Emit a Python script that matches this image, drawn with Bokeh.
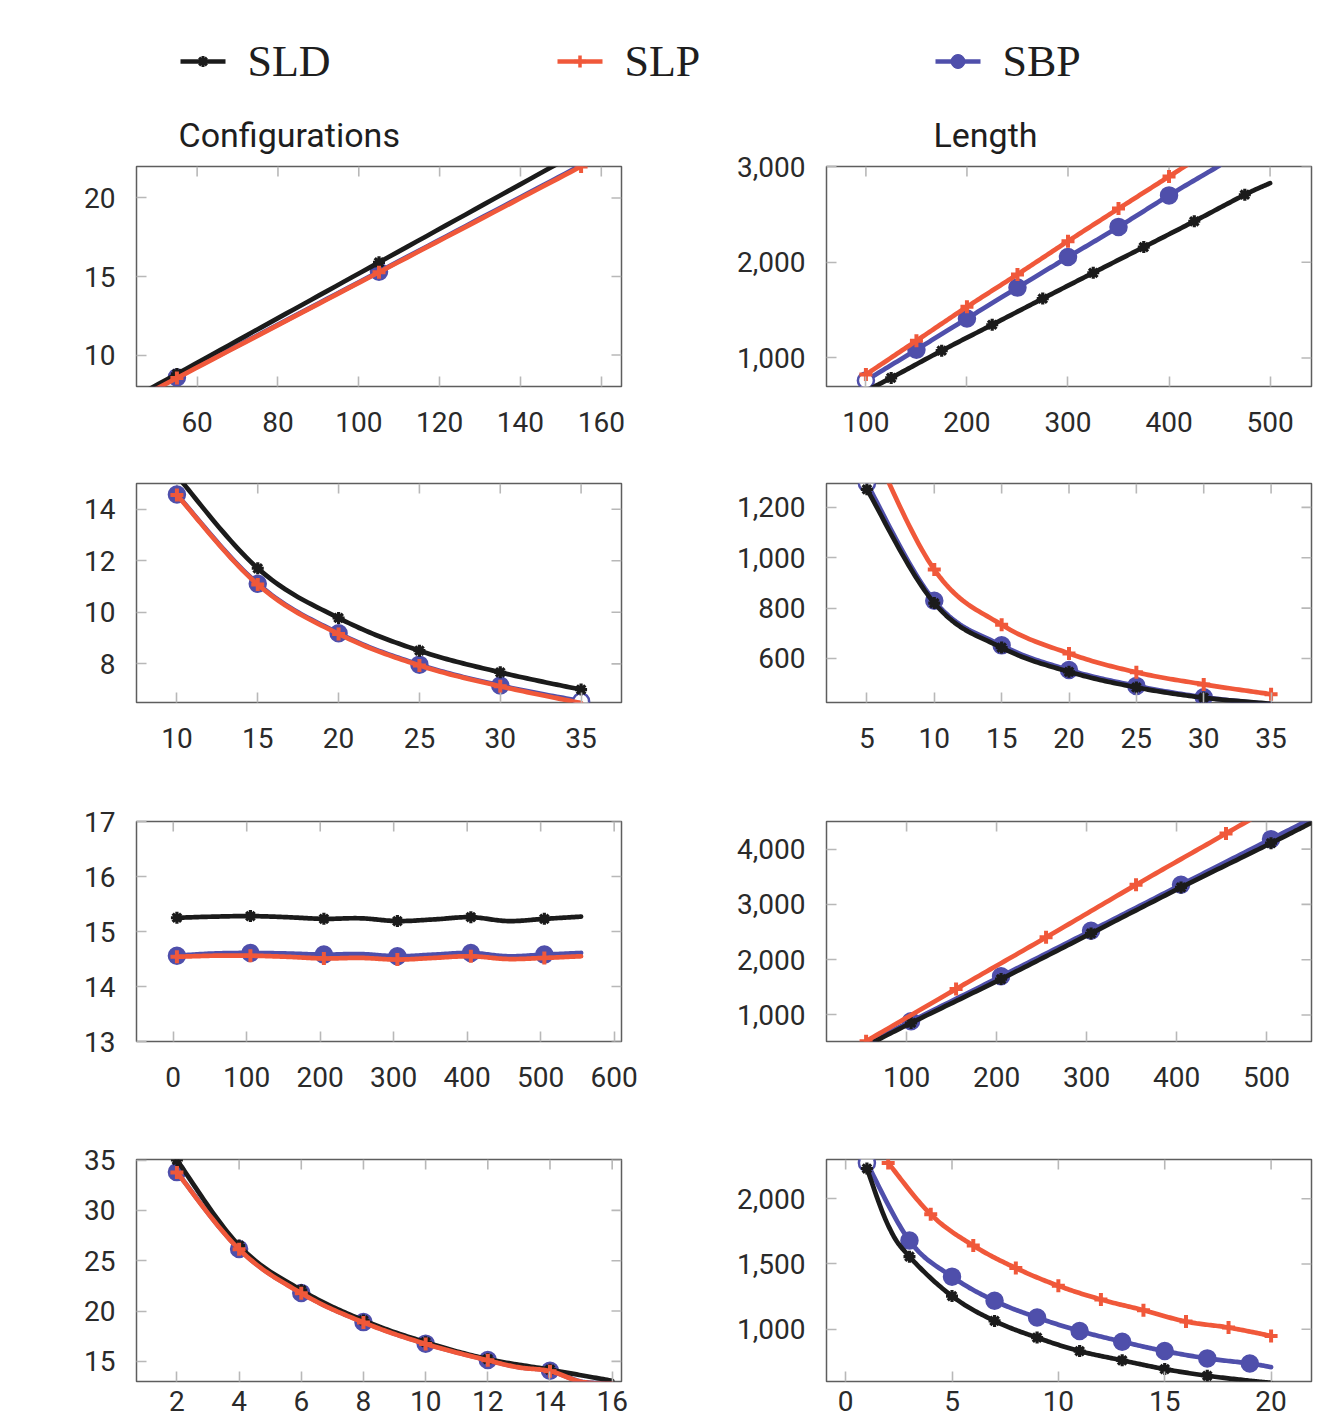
import numpy as np
from bokeh.plotting import figure
from bokeh.layouts import column, row
from bokeh.models import LinearAxis, FixedTicker, NumeralTickFormatter, Range1d, Title
from bokeh.embed import file_html
from bokeh.resources import INLINE
from bokeh.core.properties import value

# ------------------------------------------------------------------ data
legend_labels = ["SLD", "SLP", "SBP"]
column_titles = ["Configurations", "Length"]

# row 1, left (Configurations)
a_sld_x = [5, 55, 105, 155]
a_sld_y = [1.7, 8.8, 15.9, 23.0]
a_slp_x = [5, 55, 105, 155]
a_slp_y = [1.8, 8.54, 15.27, 22.0]
a_sbp_x = [5, 55, 105, 155]
a_sbp_y = [1.85, 8.58, 15.31, 22.08]
a_xticks = [60, 80, 100, 120, 140, 160]
a_yticks = [10, 15, 20]

# row 1, right (Length)
b_sld_x = [100, 125, 175, 225, 275, 325, 375, 425, 475, 500]
b_sld_y = [656, 792, 1076, 1347, 1620, 1890, 2158, 2428, 2705, 2826]
b_slp_x = [100, 150, 200, 250, 300, 350, 400, 450]
b_slp_y = [827, 1180, 1534, 1873, 2220, 2560, 2896, 3235]
b_sbp_x = [100, 150, 200, 250, 300, 350, 400, 450]
b_sbp_y = [764, 1087, 1412, 1735, 2054, 2369, 2698, 3010]
b_xticks = [100, 200, 300, 400, 500]
b_yticks = [1000, 2000, 3000]

# row 2, left
c_x = [10, 15, 20, 25, 30, 35]
c_sld_y = [15.3, 11.71, 9.78, 8.51, 7.67, 7.0]
c_slp_y = [14.55, 11.08, 9.16, 7.94, 7.13, 6.48]
c_sbp_y = [14.57, 11.11, 9.19, 7.97, 7.16, 6.55]
c_xticks = [10, 15, 20, 25, 30, 35]
c_yticks = [8, 10, 12, 14]

# row 2, right
d_x = [5, 10, 15, 20, 25, 30, 35]
d_sld_y = [1272, 820, 643, 547, 485, 444, 420]
d_slp_y = [1490, 953, 734, 620, 545, 497, 458]
d_sbp_y = [1295, 829, 652, 554, 491, 446, 418]
d_xticks = [5, 10, 15, 20, 25, 30, 35]
d_yticks = [600, 800, 1000, 1200]

# row 3, left
e_x = [5, 55, 105, 155, 205, 255, 305, 355, 405, 455, 505, 555]
e_sld_y = [15.25, 15.27, 15.28, 15.26, 15.23, 15.24, 15.19, 15.22, 15.26, 15.19, 15.23, 15.27]
e_slp_y = [14.54, 14.56, 14.56, 14.54, 14.51, 14.52, 14.49, 14.52, 14.55, 14.50, 14.52, 14.55]
e_sbp_y = [14.56, 14.60, 14.61, 14.60, 14.58, 14.59, 14.55, 14.58, 14.61, 14.55, 14.58, 14.61]
e_xticks = [0, 100, 200, 300, 400, 500, 600]
e_yticks = [13, 14, 15, 16, 17]

# row 3, right
f_sld_x = [55, 105, 205, 305, 405, 505, 555]
f_sld_y = [440, 855, 1650, 2476, 3307, 4108, 4520]
f_slp_x = [55, 155, 255, 355, 455, 555]
f_slp_y = [525, 1470, 2404, 3355, 4283, 5220]
f_sbp_x = [55, 105, 205, 305, 405, 505, 555]
f_sbp_y = [470, 886, 1699, 2524, 3355, 4181, 4596]
f_xticks = [100, 200, 300, 400, 500]
f_yticks = [1000, 2000, 3000, 4000]

# row 4, left
g_sld_x = [2, 4, 6, 8, 10, 12, 14, 16]
g_sld_y = [35.0, 26.5, 22.07, 19.07, 16.9, 15.23, 14.17, 13.07]
g_slp_x = [2, 4, 6, 8, 10, 12, 13, 14, 15, 16]
g_slp_y = [33.77, 26.13, 21.77, 18.87, 16.73, 15.1, 14.4, 14.03, 12.98, 12.78]
g_sbp_x = [2, 4, 6, 8, 10, 12, 13, 14, 15, 16]
g_sbp_y = [33.8, 26.16, 21.8, 18.9, 16.76, 15.13, 14.43, 14.06, 13.0, 12.8]
g_xticks = [2, 4, 6, 8, 10, 12, 14, 16]
g_yticks = [15, 20, 25, 30, 35]

# row 4, right
h_sld_x = [1, 2, 3, 5, 7, 9, 11, 13, 15, 17, 19, 20]
h_sld_y = [2231, 1795, 1556, 1254, 1064, 936, 833, 762, 695, 644, 606, 590]
h_slp_x = [2, 4, 6, 8, 10, 12, 14, 16, 18, 20]
h_slp_y = [2274, 1880, 1641, 1469, 1333, 1228, 1146, 1059, 1013, 949]
h_sbp_x = [1, 3, 5, 7, 9, 11, 13, 15, 17, 19, 20]
h_sbp_y = [2274, 1679, 1403, 1218, 1090, 987, 905, 833, 777, 738, 710]
h_xticks = [0, 5, 10, 15, 20]
h_yticks = [1000, 1500, 2000]

# ------------------------------------------------------------------ style
COL = {"SLD": "#1b1b1b", "SLP": "#f0583a", "SBP": "#4f4fab"}
TICK_FONT = "Roboto"
LABEL_COLOR = "#2a2a2a"
TICK_COLOR = "#b8b8b8"

panels = [
    dict(series={"SLD": (a_sld_x, a_sld_y), "SLP": (a_slp_x, a_slp_y), "SBP": (a_sbp_x, a_sbp_y)},
         xticks=a_xticks, yticks=a_yticks, xr=(45, 165), yr=(8, 22),
         marks={"SBP": [0, 1, 2]}, hollow=[]),
    dict(series={"SLD": (b_sld_x, b_sld_y), "SLP": (b_slp_x, b_slp_y), "SBP": (b_sbp_x, b_sbp_y)},
         xticks=b_xticks, yticks=b_yticks, xr=(61, 541), yr=(702, 3000),
         marks={"SLD": list(range(1, 9)), "SBP": list(range(0, 7))}, hollow=[0]),
    dict(series={"SLD": (c_x, c_sld_y), "SLP": (c_x, c_slp_y), "SBP": (c_x, c_sbp_y)},
         xticks=c_xticks, yticks=c_yticks, xr=(7.5, 37.5), yr=(6.5, 15),
         marks={"SLP": [0, 1, 2, 3, 4]}, hollow=[5]),
    dict(series={"SLD": (d_x, d_sld_y), "SLP": (d_x, d_slp_y), "SBP": (d_x, d_sbp_y)},
         xticks=d_xticks, yticks=d_yticks, xr=(2, 38), yr=(425, 1295),
         marks={"SLD": [0, 1, 2, 3, 4, 5], "SBP": [0, 1, 2, 3, 4, 5]}, hollow=[0]),
    dict(series={"SLD": (e_x, e_sld_y), "SLP": (e_x, e_slp_y), "SBP": (e_x, e_sbp_y)},
         xticks=e_xticks, yticks=e_yticks, xr=(-50, 610), yr=(13, 17),
         marks={"SLD": [0, 2, 4, 6, 8, 10], "SLP": [0, 2, 4, 6, 8, 10], "SBP": [0, 2, 4, 6, 8, 10]},
         hollow=[]),
    dict(series={"SLD": (f_sld_x, f_sld_y), "SLP": (f_slp_x, f_slp_y), "SBP": (f_sbp_x, f_sbp_y)},
         xticks=f_xticks, yticks=f_yticks, xr=(11, 550), yr=(520, 4500),
         marks={"SLD": [1, 2, 3, 4, 5], "SLP": [0, 1, 2, 3, 4], "SBP": [1, 2, 3, 4, 5]}, hollow=[]),
    dict(series={"SLD": (g_sld_x, g_sld_y), "SLP": (g_slp_x, g_slp_y), "SBP": (g_sbp_x, g_sbp_y)},
         xticks=g_xticks, yticks=g_yticks, xr=(0.7, 16.3), yr=(13, 35.05),
         marks={"SLD": [0, 1, 2, 3, 4, 5, 6], "SLP": [0, 1, 2, 3, 4, 5, 7], "SBP": [0, 1, 2, 3, 4, 5, 7]},
         hollow=[]),
    dict(series={"SLD": (h_sld_x, h_sld_y), "SLP": (h_slp_x, h_slp_y), "SBP": (h_sbp_x, h_sbp_y)},
         xticks=h_xticks, yticks=h_yticks, xr=(-0.9, 21.9), yr=(600, 2300),
         marks={"SLD": [0, 2, 3, 4, 5, 6, 7, 8, 9], "SBP": list(range(0, 10))}, hollow=[0]),
]

LEFT_W, RIGHT_W = 639, 687
LEFT_BL, RIGHT_BL = 136, 187
FRAME_W = 485
# (height, top border, bottom border, x-label standoff) per row
ROWS = [(348, 66, 62, 25), (316, 35, 62, 25), (339, 57, 62, 25), (320, 56, 42, 9)]
TITLE_OFFSETS = [42, 107]


def smooth(xs, ys, k=0.18, n=24):
    pts = np.column_stack([xs, ys]).astype(float)
    if len(pts) < 3:
        return list(pts[:, 0]), list(pts[:, 1])
    P = np.vstack([pts[0], pts, pts[-1]])
    t = np.linspace(0, 1, n, endpoint=False)[:, None]
    out = []
    for i in range(1, len(P) - 2):
        p0, p1, p2, p3 = P[i - 1], P[i], P[i + 1], P[i + 2]
        c1 = p1 + (p2 - p0) * k
        c2 = p2 - (p3 - p1) * k
        seg = (1 - t) ** 3 * p1 + 3 * (1 - t) ** 2 * t * c1 + 3 * (1 - t) * t ** 2 * c2 + t ** 3 * p2
        out.append(seg)
    out.append(pts[-1:])
    arr = np.vstack(out)
    return list(arr[:, 0]), list(arr[:, 1])


def style_axis(ax, ticks, standoff):
    ax.ticker = FixedTicker(ticks=ticks)
    ax.formatter = NumeralTickFormatter(format="0,0")
    ax.axis_line_color = None
    ax.major_tick_in = 10
    ax.major_tick_out = 0
    ax.major_tick_line_color = TICK_COLOR
    ax.major_tick_line_width = 1.6
    ax.minor_tick_line_color = None
    ax.major_label_text_font = TICK_FONT
    ax.major_label_text_color = LABEL_COLOR
    ax.major_label_text_font_size = "28px"
    ax.major_label_standoff = standoff


def draw_series(p, name, x, y, marks, hollow):
    sx, sy = smooth(x, y)
    p.line(sx, sy, line_color=COL[name], line_width=4.7, line_join="round", line_cap="round")
    idx = list(range(len(x))) if marks is None else marks
    mx = [x[i] for i in idx]
    my = [y[i] for i in idx]
    if name == "SBP":
        fills = ["white" if i in hollow else COL[name] for i in idx]
        p.scatter(mx, my, marker="circle", size=16, fill_color=fills,
                  line_color=COL[name], line_width=2.5)
    elif name == "SLD":
        p.scatter(mx, my, marker="asterisk", size=12, line_color=COL[name], line_width=3.2)
    else:
        p.scatter(mx, my, marker="cross", size=13, line_color=COL[name], line_width=4)


def make_panel(cfg, r, c):
    h, bt, bb, xs = ROWS[r]
    width = LEFT_W if c == 0 else RIGHT_W
    bl = LEFT_BL if c == 0 else RIGHT_BL
    br = width - bl - FRAME_W
    p = figure(width=width, height=h, x_range=Range1d(*cfg["xr"]), y_range=Range1d(*cfg["yr"]),
               output_backend="svg", toolbar_location=None,
               x_axis_location=None, y_axis_location=None,
               min_border_left=bl, min_border_right=br, min_border_top=bt, min_border_bottom=bb,
               background_fill_color="white", border_fill_color="white")
    p.grid.visible = False
    p.outline_line_color = "#5e5e5e"
    p.outline_line_width = 1.5
    p.outline_line_alpha = 1.0
    bottom = LinearAxis()
    style_axis(bottom, cfg["xticks"], xs)
    p.add_layout(bottom, "below")
    left = LinearAxis()
    style_axis(left, cfg["yticks"], 21)
    p.add_layout(left, "left")
    # mirrored inward ticks on the top and right edges of the frame
    x0, x1 = cfg["xr"]
    y0, y1 = cfg["yr"]
    xt, yt = cfg["xticks"], cfg["yticks"]
    p.ray(x=xt, y=[y1] * len(xt), length=10, length_units="screen", angle=-np.pi / 2,
          line_color=TICK_COLOR, line_width=1.6)
    p.ray(x=[x1] * len(yt), y=yt, length=10, length_units="screen", angle=np.pi,
          line_color=TICK_COLOR, line_width=1.6)
    for name in ["SBP", "SLD", "SLP"]:
        x, y = cfg["series"][name]
        draw_series(p, name, x, y, cfg["marks"].get(name), cfg["hollow"] if name == "SBP" else [])
    if r == 0:
        p.add_layout(Title(text=column_titles[c], align="left", offset=TITLE_OFFSETS[c],
                           standoff=24, text_font=TICK_FONT, text_font_size="34px",
                           text_font_style="normal", text_color="#1e1e1e"), "above")
    return p


# ------------------------------------------------------------------ header (legend)
HEAD_H = 100
head = figure(width=LEFT_W + RIGHT_W, height=HEAD_H, x_range=Range1d(0, LEFT_W + RIGHT_W),
              y_range=Range1d(HEAD_H, 0), output_backend="svg", toolbar_location=None,
              x_axis_location=None, y_axis_location=None, min_border=0,
              background_fill_color="white", border_fill_color="white")
head.grid.visible = False
head.outline_line_color = None

leg_x0 = [180, 557, 935]
leg_y = 61
for name, x0 in zip(legend_labels, leg_x0):
    head.line([x0, x0 + 45], [leg_y, leg_y], line_color=COL[name], line_width=4.5)
    cx = x0 + 22.5
    if name == "SBP":
        head.scatter([cx], [leg_y], marker="circle", size=14, fill_color=COL[name],
                     line_color=COL[name])
    elif name == "SLD":
        head.scatter([cx], [leg_y], marker="asterisk", size=11, line_color=COL[name], line_width=3)
    else:
        head.scatter([cx], [leg_y], marker="cross", size=12, line_color=COL[name], line_width=3.5)
    head.text([x0 + 67], [leg_y], text=[name], text_font=value("Liberation Serif"),
              text_font_size="44px", text_baseline="middle", text_align="left",
              text_color="#1e1e1e")

rows = []
for r in range(4):
    rows.append(row(make_panel(panels[2 * r], r, 0), make_panel(panels[2 * r + 1], r, 1)))

layout = column(head, *rows)
open("out.html", "w").write(file_html(layout, INLINE))
